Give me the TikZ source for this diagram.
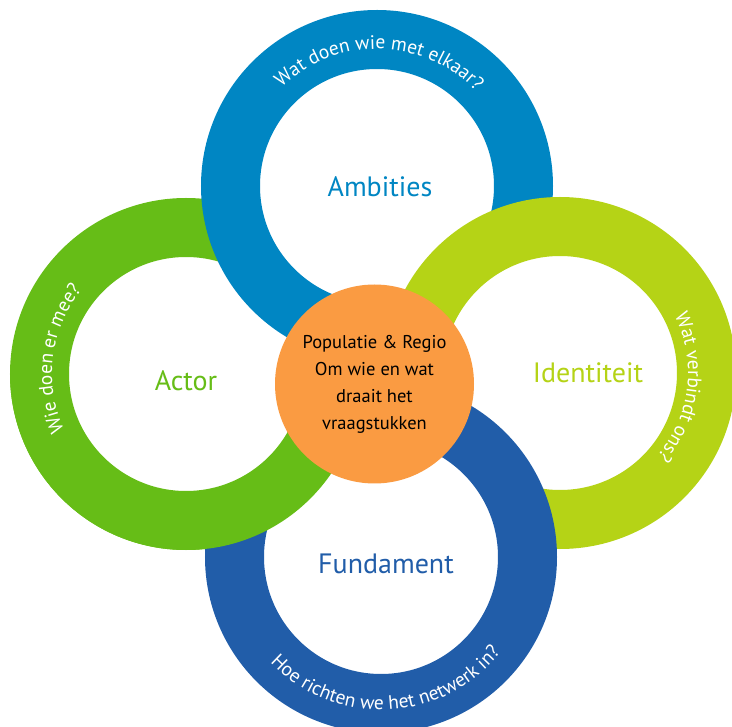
\documentclass[tikz,border=0pt]{standalone}
\usepackage{fontspec}
\setmainfont{PT Sans}
\usetikzlibrary{decorations.text,calc}
\definecolor{cAmb}{HTML}{0086C3}
\definecolor{cAct}{HTML}{66BD17}
\definecolor{cIde}{HTML}{B5D316}
\definecolor{cFun}{HTML}{215DA9}
\definecolor{cOra}{HTML}{FA9B42}
\newcommand\ringfont{\fontsize{19.5}{20}\selectfont\color{white}}
\begin{document}
\begin{tikzpicture}[x=1pt,y=1pt,
  ring/.style={draw=#1, fill=white, line width=59pt},
  lbl/.style={font=\fontsize{28}{30}\selectfont, text=#1, inner sep=0pt},
  arctext/.style={decorate, decoration={text along path, text align=center, text={|\ringfont|#1}}}]
\useasboundingbox (0,0) rectangle (732,-727);
\clip (0,0) rectangle (732,-727);
\coordinate (amb) at (377,-186);
\coordinate (act) at (186,-374);
\coordinate (ide) at (560,-373);
\coordinate (fun) at (381,-557);
% rings, cyclic overlap
\draw[ring=cAct] (act) circle[radius=146.5];
\draw[ring=cAmb] (amb) circle[radius=146.5];
\draw[ring=cIde] (ide) circle[radius=146.5];
\draw[ring=cFun] (fun) circle[radius=146.5];
\begin{scope}
  \clip (0,-370) rectangle (420,-727);
  \draw[ring=cAct] (act) circle[radius=146.5];
\end{scope}
% curved texts
\path[arctext={Wat doen wie met elkaar?}] ($(amb)+(140:137)$) arc[start angle=140, end angle=38, radius=137];
\path[arctext={Wie doen er mee?}] ($(act)+(225:134)$) arc[start angle=225, end angle=121, radius=134];
\path[arctext={Wat verbindt ons?}] ($(ide)+(45:128)$) arc[start angle=45, end angle=-59, radius=128];
\path[arctext={Hoe richten we het netwerk in?}] ($(fun)+(215:153)$) arc[start angle=215, end angle=330, radius=153];
% labels
\node[lbl=cAmb] (tAmb) at (380,-187) {Ambities};
\node[lbl=cAct] (tAct) at (186,-381) {Actor};
\node[lbl=cIde] (tIde) at (588,-373) {Identiteit};
\node[lbl=cFun] (tFun) at (386,-564) {Fundament};
% core
\node[circle, fill=cOra, minimum size=199pt, inner sep=0pt, align=center,
      font=\fontsize{18.5}{27}\selectfont] (core) at (374.5,-384)
  {Populatie \& Regio\\Om wie en wat\\draait het\\vraagstukken};
\end{tikzpicture}
\end{document}
